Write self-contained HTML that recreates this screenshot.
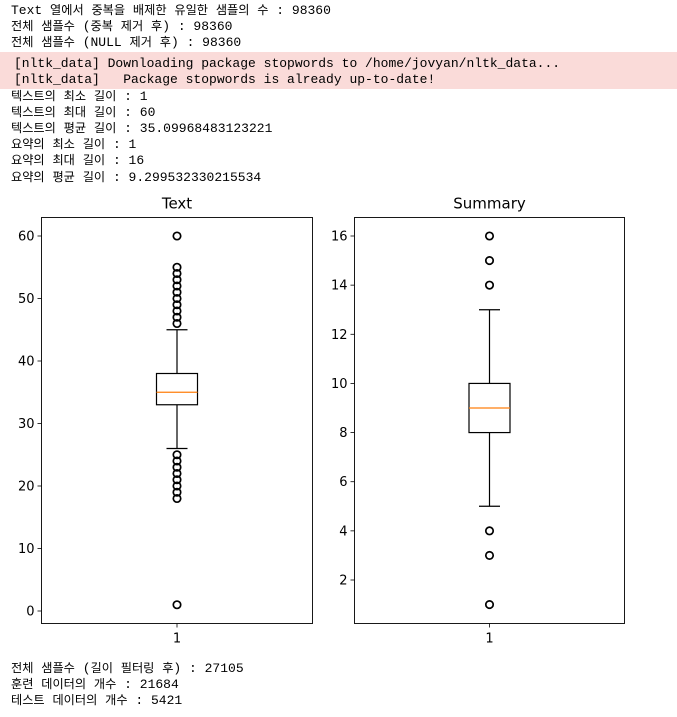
<!DOCTYPE html>
<html><head><meta charset="utf-8">
<style>
body{margin:0;width:677px;height:717px;background:#fff;overflow:hidden;position:relative;font-family:"Liberation Mono","Noto Sans CJK KR",monospace;font-size:13px;color:#000}
.l{position:absolute;left:11px;white-space:pre;line-height:16px}
.k{font-size:12.2px}
#err{position:absolute;left:0;top:52px;width:677px;height:37px;background:#fadbd9}
svg{position:absolute;left:0;top:0}
svg text{font-family:"DejaVu Sans","Liberation Sans",sans-serif}
</style></head><body>
<div class="l" style="top:3px">Text 열에서 중복을 배제한 유일한 샘플의 수 : 98360</div>
<div class="l" style="top:19px">전체 샘플수 (중복 제거 후) : 98360</div>
<div class="l" style="top:35px">전체 샘플수 (NULL 제거 후) : 98360</div>
<div id="err"></div>
<div class="l" style="top:56px;left:14px">[nltk_data] Downloading package stopwords to /home/jovyan/nltk_data...</div>
<div class="l" style="top:72px;left:14px">[nltk_data]   Package stopwords is already up-to-date!</div>
<div class="l" style="top:89px">텍스트의 최소 길이 : 1</div>
<div class="l" style="top:105px">텍스트의 최대 길이 : 60</div>
<div class="l" style="top:121px">텍스트의 평균 길이 : 35.09968483123221</div>
<div class="l" style="top:137px">요약의 최소 길이 : 1</div>
<div class="l" style="top:153px">요약의 최대 길이 : 16</div>
<div class="l" style="top:170px">요약의 평균 길이 : 9.299532330215534</div>
<div class="l" style="top:661px">전체 샘플수 (길이 필터링 후) : 27105</div>
<div class="l" style="top:677px">훈련 데이터의 개수 : 21684</div>
<div class="l" style="top:693px">테스트 데이터의 개수 : 5421</div>
<svg id="c" width="677" height="717"></svg>
<script>
const textStats=[26,33,35,38,45];
const textOutliers=[1,18,19,20,21,22,23,24,25,46,47,48,49,50,51,52,53,54,55,60];
const textTicks=[0,10,20,30,40,50,60];
const sumStats=[5,8,9,10,13];
const sumOutliers=[1,3,4,14,15,16];
const sumTicks=[2,4,6,8,10,12,14,16];
document.querySelectorAll('.l').forEach(d=>{d.innerHTML=d.textContent.replace(/([\uAC00-\uD7A3]+)/g,'<span class="k">$1</span>');});
const svg=document.getElementById('c');
const NS='http://www.w3.org/2000/svg';
function mk(t,a,p){const e=document.createElementNS(NS,t);for(const k in a)e.setAttribute(k,a[k]);(p||svg).appendChild(e);return e;}
function panel(x0,x1,y0,y1,v0,p0,v1,p1,stats,outs,ticks,title,nm){
  const g=mk('g',{});
  
  
  const y=v=>p0+(v-v0)*(p1-p0)/(v1-v0);
  const cx=(x0+x1)/2;
  const t=mk('text',{x:cx,y:y0-9,'text-anchor':'middle','font-size':15},g);t.textContent=title;
  
  ticks.forEach(v=>{
    mk('line',{x1:x0-4,x2:x0,y1:y(v),y2:y(v),stroke:'#000','stroke-width':0.8},g);
    const l=mk('text',{x:x0-7,y:y(v)+4.5,'text-anchor':'end','font-size':13},g);l.textContent=v;
    
  });
  mk('line',{x1:cx,x2:cx,y1:y1,y2:y1+4,stroke:'#000','stroke-width':0.8},g);
  const xl=mk('text',{x:cx,y:y1+19,'text-anchor':'middle','font-size':13},g);xl.textContent='1';
  
  const [wl,q1,md,q3,wh]=stats;
  const bw=41,cw=21;
  mk('line',{x1:cx,x2:cx,y1:y(q1),y2:y(wl),stroke:'#000','stroke-width':1.2},g);
  mk('line',{x1:cx,x2:cx,y1:y(q3),y2:y(wh),stroke:'#000','stroke-width':1.2},g);
  mk('line',{x1:cx-cw/2,x2:cx+cw/2,y1:y(wl),y2:y(wl),stroke:'#000','stroke-width':1.2},g);
  mk('line',{x1:cx-cw/2,x2:cx+cw/2,y1:y(wh),y2:y(wh),stroke:'#000','stroke-width':1.2},g);
  const b=mk('rect',{x:cx-bw/2,y:y(q3),width:bw,height:y(q1)-y(q3),fill:'none',stroke:'#000','stroke-width':1.2},g);
  
  mk('line',{x1:cx-bw/2,x2:cx+bw/2,y1:y(md),y2:y(md),stroke:'#ff7f0e','stroke-width':1.2},g);
  outs.forEach(v=>{const c=mk('circle',{cx:cx,cy:y(v),r:3.7,fill:'none',stroke:'#000','stroke-width':1.7},g);
    });
  mk('rect',{x:x0,y:y0,width:x1-x0,height:y1-y0,fill:'none',stroke:'#000','stroke-width':0.9},g);
}
panel(41.5,312.5,217.5,623.5,0,611,60,236,textStats,textOutliers,textTicks,'Text','text-boxplot');
panel(354.5,624.5,217.5,623.5,2,580,16,236,sumStats,sumOutliers,sumTicks,'Summary','summary-boxplot');
</script>
</body></html>
